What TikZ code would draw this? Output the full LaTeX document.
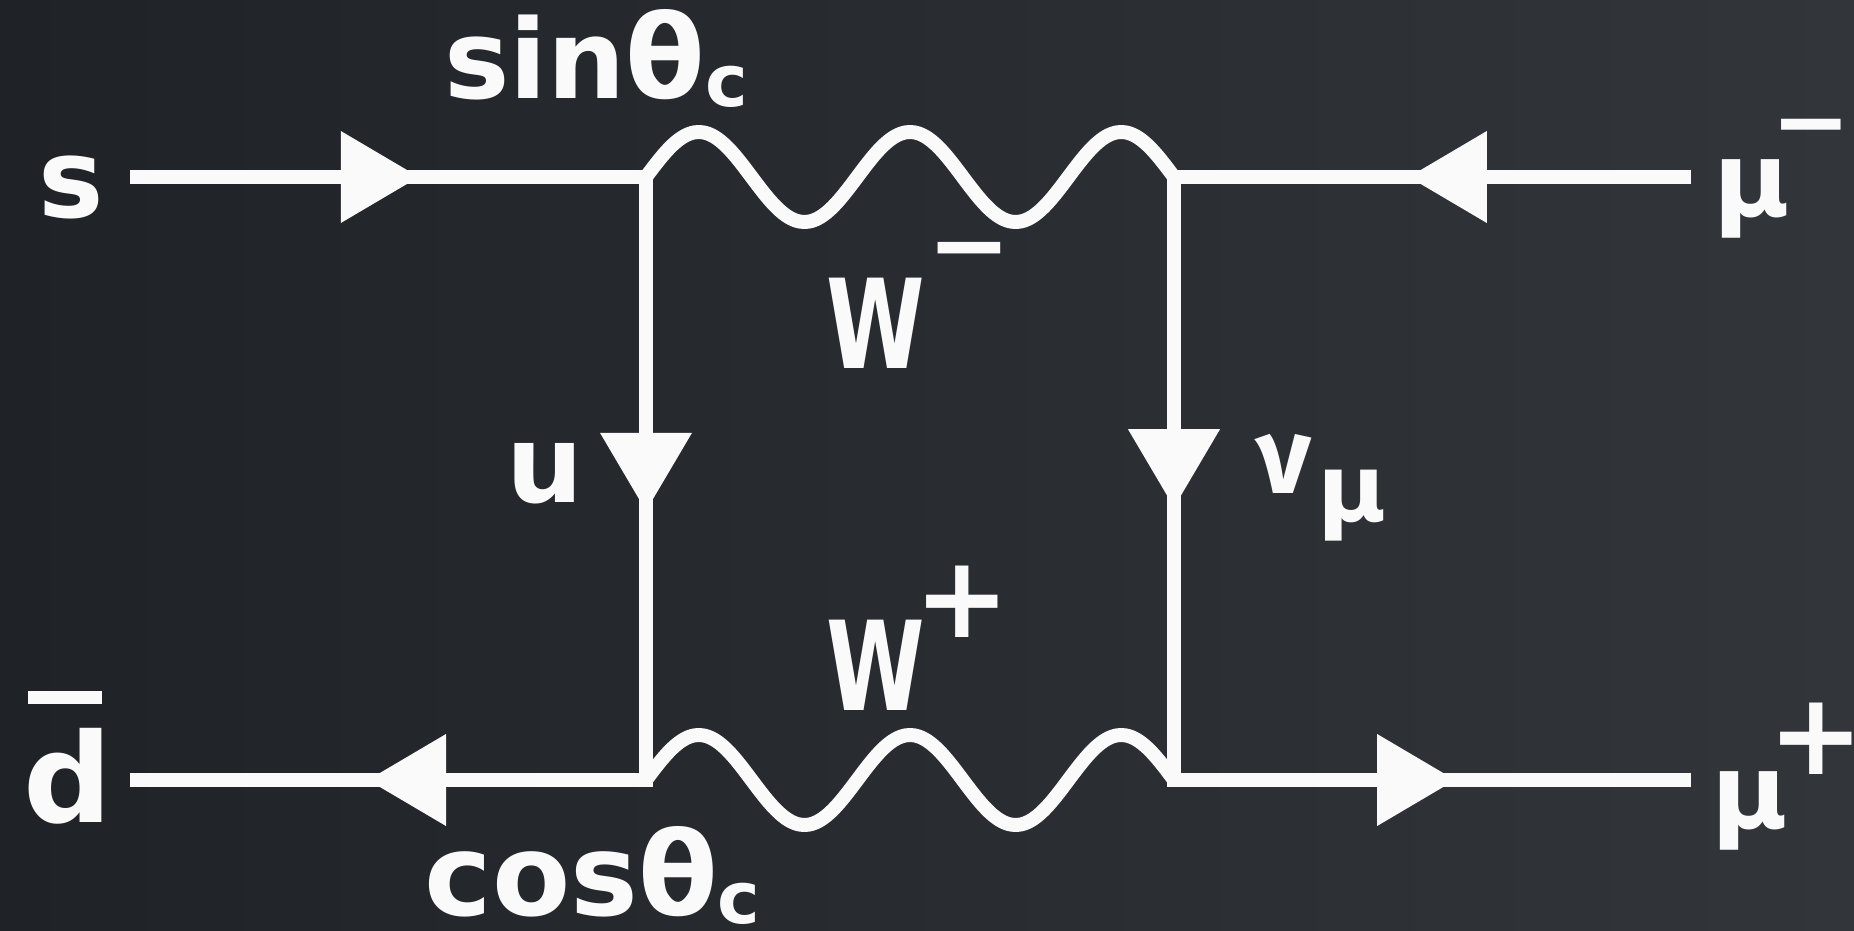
\documentclass[tikz,border=0pt]{standalone}
\usepackage{graphicx}
\usepackage{fontspec}
\setmainfont{DejaVu Sans}
\newfontfamily\nufont{Fira Sans}
\usetikzlibrary{decorations.markings}
\definecolor{bgL}{HTML}{1F2327}
\definecolor{bgR}{HTML}{32363B}
\definecolor{chalkc}{HTML}{FAFAFA}
\tikzset{
  chalk/.style={draw=chalkc, line width=7pt, line cap=butt, line join=round},
  fermion/.style={chalk, postaction={decorate, decoration={markings,
      mark=at position #1 with {\fill[chalkc] (4,0) -- (-74,46) -- (-74,-46) -- cycle;}}}},
  lbl/.style={text=chalkc, inner sep=0pt, font=\bfseries},
}
\newcommand\fsz[1]{\fontsize{#1}{#1}\selectfont}
\begin{document}
\begin{tikzpicture}[x=0.5pt, y=-0.5pt]
\shade[left color=bgL, right color=bgR] (0,0) rectangle (1854,931);
\clip (0,0) rectangle (1854,931);
% vertices
\coordinate (v1) at (646,177);
\coordinate (v2) at (1174,177);
\coordinate (v3) at (646,780);
\coordinate (v4) at (1174,780);
\coordinate (sEnd) at (130,177);
\coordinate (dEnd) at (130,780);
\coordinate (muMEnd) at (1691,177);
\coordinate (muPEnd) at (1691,780);
% fermion lines
\draw[fermion=0.552] (sEnd) -- (v1);
\draw[fermion=0.538] (muMEnd) -- (v2);
\draw[fermion=0.531] (v3) -- (dEnd);
\draw[fermion=0.536] (v4) -- (muPEnd);
\draw[fermion=0.547, line cap=rect] (v1) -- (v3);
\draw[fermion=0.541, line cap=rect] (v2) -- (v4);
% W boson lines
\draw[chalk, shift={(v1)}] plot[domain=0:900, samples=121, variable=\t, smooth] ({\t*0.58667}, {-45*sin(\t)});
\draw[chalk, shift={(v3)}] plot[domain=0:900, samples=121, variable=\t, smooth] ({\t*0.58667}, {-45*sin(\t)});
% labels
\node[lbl, anchor=base] (s) at (71,218) {\fsz{55pt}s};
\node[lbl, anchor=base] (dbar) at (68,822) {\fsz{62pt}\rlap{\hspace{2pt}\rule[59pt]{37pt}{6.5pt}}d};
\node[lbl, anchor=base west] (sin) at (444,99) {\fsz{55pt}sin\fsz{58pt}θ\raisebox{-4pt}{\fsz{36pt}c}};
\node[lbl, anchor=base west] (cos) at (424,915) {\fsz{57pt}cos\fsz{58pt}θ\raisebox{-4pt}{\fsz{36pt}c}};
\node[lbl, anchor=base west] (wm) at (826,368) {\fsz{62pt}\scalebox{0.72}[1]{W}\kern1.5pt\raisebox{44.5pt}{\fsz{50pt}−}};
\node[lbl, anchor=base west] (wp) at (826,710) {\fsz{62pt}\scalebox{0.72}[1]{W}\kern-5pt\raisebox{36.5pt}{\fsz{57pt}+}};
\node[lbl, anchor=base] (u) at (545,502) {\fsz{54pt}u};
\node[lbl, anchor=base west] (nu) at (1256,493) {\fsz{54pt}\nufont ν\kern3pt\raisebox{-14pt}{\fsz{47pt}\rmfamily μ}};
\node[lbl, anchor=base west] (mum) at (1713,217) {\fsz{52pt}μ\kern-9pt\raisebox{31.5pt}{\fsz{47.5pt}−}};
\node[lbl, anchor=base west] (mup) at (1711,828) {\fsz{52pt}μ\kern-9.5pt\raisebox{27pt}{\fsz{57pt}+}};
\end{tikzpicture}
\end{document}
